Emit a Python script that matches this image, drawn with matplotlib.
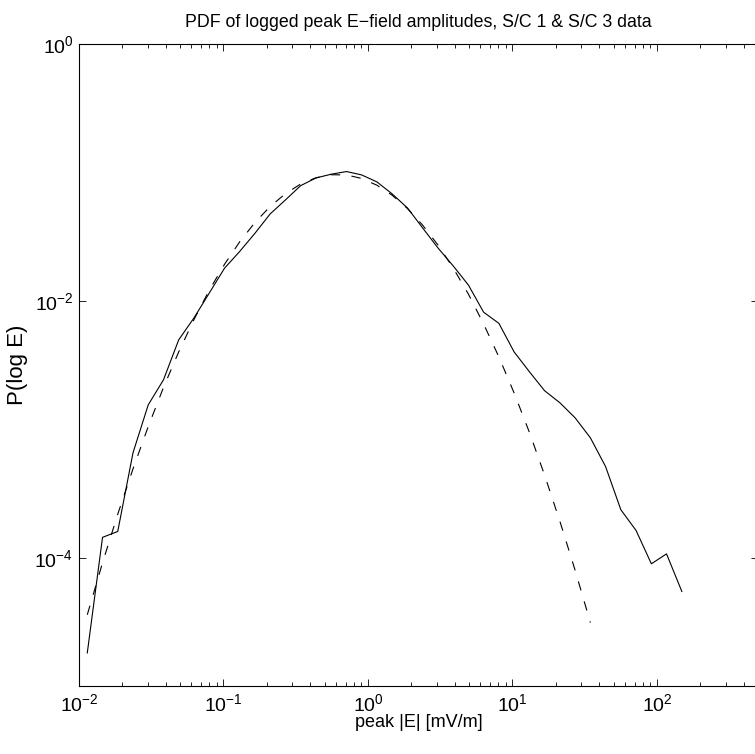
import numpy as np
import matplotlib
matplotlib.use("Agg")
import matplotlib.pyplot as plt
from matplotlib.ticker import FixedLocator, NullLocator, LogLocator

plt.rcParams["font.family"] = ["Liberation Sans", "DejaVu Sans"]
plt.rcParams["mathtext.fontset"] = "custom"
plt.rcParams["mathtext.rm"] = "Liberation Sans"
plt.rcParams["mathtext.it"] = "Liberation Sans:italic"
plt.rcParams["mathtext.bf"] = "Liberation Sans:bold"
plt.rcParams["lines.scale_dashes"] = False

# bin centres of |E| (mV/m), log spaced
peak_E = [0.01141, 0.01455, 0.01854, 0.02364, 0.03013, 0.03843, 0.04898, 0.06246,
          0.07962, 0.1016, 0.1294, 0.1651, 0.2104, 0.2685, 0.3420, 0.4365,
          0.5559, 0.7096, 0.9036, 1.153, 1.469, 1.875, 2.388, 3.048,
          3.882, 4.955, 6.310, 8.054, 10.26, 13.09, 16.67, 21.28,
          27.10, 34.59, 44.06, 56.23, 71.61, 91.41, 116.4, 148.6]

# measured PDF (solid)
pdf_data = [1.81e-5, 1.44e-4, 1.60e-4, 6.56e-4, 1.55e-3, 2.43e-3, 4.98e-3, 7.38e-3,
            1.15e-2, 1.80e-2, 2.43e-2, 3.37e-2, 4.77e-2, 6.13e-2, 7.92e-2, 9.09e-2,
            9.72e-2, 0.102, 9.60e-2, 8.47e-2, 6.83e-2, 5.31e-2, 3.71e-2, 2.59e-2,
            1.88e-2, 1.33e-2, 8.18e-3, 6.69e-3, 4.01e-3, 2.81e-3, 2.00e-3, 1.61e-3,
            1.23e-3, 8.59e-4, 5.13e-4, 2.36e-4, 1.63e-4, 8.96e-5, 1.07e-4, 5.45e-5]

# fitted curve (dashed), first 34 bins
pdf_fit = [3.59e-5, 9.12e-5, 2.18e-4, 4.92e-4, 1.05e-3, 2.12e-3, 4.01e-3, 7.16e-3,
           1.21e-2, 1.93e-2, 2.89e-2, 4.09e-2, 5.45e-2, 6.86e-2, 8.15e-2, 9.12e-2,
           9.63e-2, 9.60e-2, 9.01e-2, 7.98e-2, 6.67e-2, 5.25e-2, 3.90e-2, 2.73e-2,
           1.81e-2, 1.13e-2, 6.62e-3, 3.66e-3, 1.92e-3, 9.48e-4, 4.40e-4, 1.92e-4,
           8.00e-5, 3.12e-5]

fig = plt.figure(figsize=(7.55, 7.54), dpi=100)
ax = fig.add_axes([79/755, 68/754, 679/755, 641.7/754])

ax.plot(peak_E, pdf_data, color="black", lw=0.8)
ax.plot(peak_E[:len(pdf_fit)], pdf_fit, color="black", lw=0.8, linestyle=(0, (6.8, 8.2)))

ax.set_xscale("log")
ax.set_yscale("log")
ax.set_xlim(1e-2, 5e2)
ax.set_ylim(1e-5, 1e0)

ax.yaxis.set_major_locator(FixedLocator([1e-4, 1e-2, 1e0]))
ax.yaxis.set_minor_locator(NullLocator())
ax.xaxis.set_major_locator(LogLocator(base=10, numticks=10))
ax.xaxis.set_minor_locator(LogLocator(base=10, subs=np.arange(2, 10), numticks=20))

ax.tick_params(which="both", direction="in", top=True, right=True, width=0.6)
ax.tick_params(which="major", length=5, labelsize=14)
ax.tick_params(axis="x", which="major", pad=5)
ax.tick_params(axis="y", which="major", pad=4)
ax.tick_params(which="minor", length=2.7)
for s in ax.spines.values():
    s.set_linewidth(0.8)

ax.text(0.5, 1 + 17.6/641.7, "PDF of logged peak E\u2212field amplitudes, S/C 1 & S/C 3 data",
        transform=ax.transAxes, ha="center", va="baseline", fontsize=12.8)
ax.set_xlabel("peak |E| [mV/m]", fontsize=13)
ax.xaxis.label.set_va("baseline")
ax.xaxis.set_label_coords(0.5, -41/641.7)
ax.set_ylabel("P(log E)", fontsize=16, labelpad=5)

fig.savefig("out.png", dpi=100)
